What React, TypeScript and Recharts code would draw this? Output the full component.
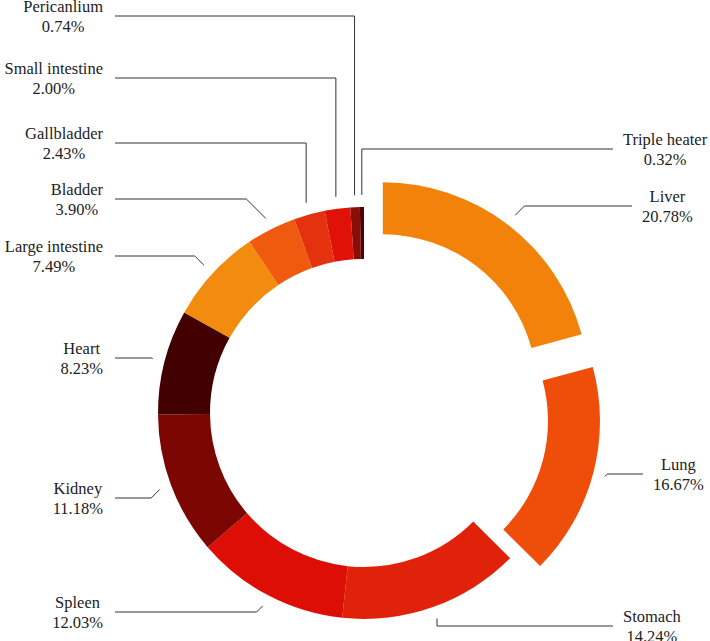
import React from 'react';
import { PieChart, Pie, Cell } from 'recharts';

const organs = [
  'Liver', 'Lung', 'Stomach', 'Spleen', 'Kidney', 'Heart',
  'Large intestine', 'Bladder', 'Gallbladder', 'Small intestine', 'Pericanlium', 'Triple heater',
];
const shares = [20.78, 16.67, 14.24, 12.03, 11.18, 8.23, 7.49, 3.9, 2.43, 2.0, 0.74, 0.32];
const colors = [
  '#f2820a', '#ee4e0a', '#e0220a', '#dc0e06', '#7c0602', '#420000',
  '#f38b0e', '#ef5a0e', '#e5320e', '#e01208', '#8a0e08', '#500000',
];
const explodedOrgans = ['Liver', 'Lung'];

// label layout (y of the horizontal leader, where it ends, how it bends)
const labelLineY = [206, 474, 626, 612, 498, 358, 256, 199, 143, 78, 16, 149];
const labelEndX = [632, 643, 613, 115, 115, 115, 115, 115, 115, 115, 115, 613];
const labelBend = ['diag', 'diag', 'vert', 'diag', 'diag', 'diag', 'diag', 'diag', 'vert', 'vert', 'vert', 'vert'];

const data = organs.map((name, i) => ({ name, value: shares[i] }));

const CX = 364;
const CY = 413;
const INNER = 154;
const OUTER = 206;
const EXPLODE = 31;
const FAMILY = "'Liberation Serif', 'DejaVu Serif', serif";
const FONT_SIZE = 16.5;
const FONT = `${FONT_SIZE}px 'Liberation Serif'`;
const RAD = Math.PI / 180;

let ctx: CanvasRenderingContext2D | null = null;
function textWidth(s: string) {
  if (!ctx) ctx = document.createElement('canvas').getContext('2d');
  if (!ctx) return s.length * 7;
  ctx.font = FONT;
  return ctx.measureText(s).width;
}

// centre shift for an exploded slice, along its middle angle
function explodedCenter(name: string) {
  const total = shares.reduce((a, b) => a + b, 0);
  const idx = organs.indexOf(name);
  const before = shares.slice(0, idx).reduce((a, b) => a + b, 0);
  const theta = ((before + shares[idx] / 2) / total) * 360 * RAD;
  return { cx: CX + EXPLODE * Math.sin(theta), cy: CY - EXPLODE * Math.cos(theta) };
}

function makeLabel(visible: (name: string) => boolean) {
  return (props: any) => {
    const { cx, cy, midAngle, outerRadius, index } = props;
    const name = organs[index];
    if (!visible(name)) return null;
    const r = outerRadius + 12;
    const sx = cx + r * Math.cos(-midAngle * RAD);
    const sy = cy + r * Math.sin(-midAngle * RAD);
    const ly = labelLineY[index];
    const ex = labelEndX[index];
    const left = ex < sx;
    const dir = left ? -1 : 1;
    const bx = labelBend[index] === 'vert' ? sx : sx + dir * Math.abs(ly - sy);
    const pct = `${shares[index].toFixed(2)}%`;
    const w = Math.max(textWidth(name), textWidth(pct));
    const tx = left ? ex - 12 - w / 2 : ex + 10 + w / 2;
    return (
      <g key={`lbl-${index}`}>
        <polyline
          points={`${sx},${sy} ${bx},${ly} ${ex},${ly}`}
          fill="none"
          stroke="#333"
          strokeWidth={1}
        />
        <text x={tx} y={ly - 4} textAnchor="middle" fill="#222" fontFamily={FAMILY} fontSize={FONT_SIZE}>
          {name}
        </text>
        <text x={tx} y={ly + 16} textAnchor="middle" fill="#222" fontFamily={FAMILY} fontSize={FONT_SIZE}>
          {pct}
        </text>
      </g>
    );
  };
}

export default function App() {
  const isBase = (n: string) => !explodedOrgans.includes(n);
  return (
    <div style={{ width: 710, height: 641, background: '#fff' }}>
      <style>{'body{margin:0}'}</style>
      <PieChart width={710} height={641} margin={{ top: 0, right: 0, bottom: 0, left: 0 }}>
        <Pie
          data={data}
          dataKey="value"
          nameKey="name"
          cx={CX}
          cy={CY}
          innerRadius={INNER}
          outerRadius={OUTER}
          startAngle={90}
          endAngle={-270}
          stroke="none"
          labelLine={false}
          label={makeLabel(isBase)}
          isAnimationActive={false}
        >
          {data.map((d, i) => (
            <Cell key={d.name} fill={isBase(d.name) ? colors[i] : 'none'} />
          ))}
        </Pie>
        {explodedOrgans.map((organ) => {
          const c = explodedCenter(organ);
          return (
            <Pie
              key={organ}
              data={data}
              dataKey="value"
              nameKey="name"
              cx={c.cx}
              cy={c.cy}
              innerRadius={INNER}
              outerRadius={OUTER}
              startAngle={90}
              endAngle={-270}
              stroke="none"
              labelLine={false}
              label={makeLabel((n) => n === organ)}
              isAnimationActive={false}
            >
              {data.map((d, i) => (
                <Cell key={d.name} fill={d.name === organ ? colors[i] : 'none'} />
              ))}
            </Pie>
          );
        })}
      </PieChart>
    </div>
  );
}
